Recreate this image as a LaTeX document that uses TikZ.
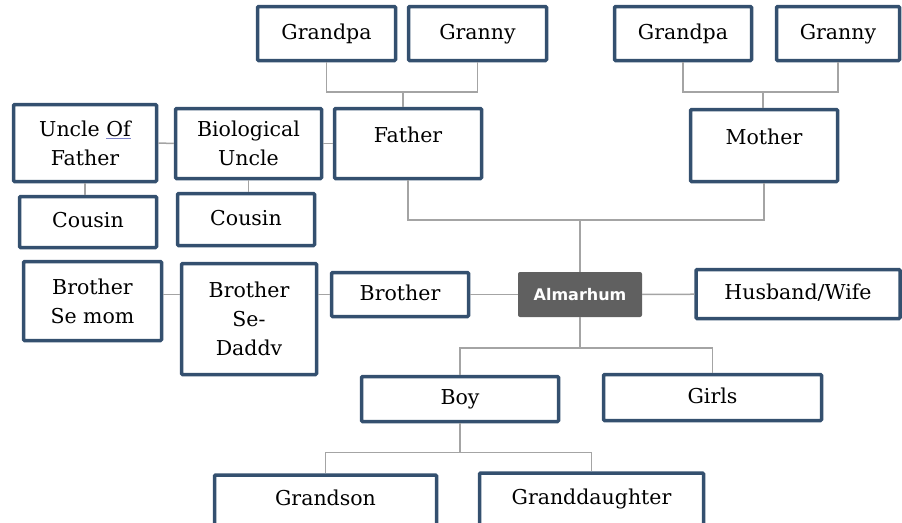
\documentclass[tikz,border=0pt]{standalone}
\usepackage{fontspec}
\setmainfont{DejaVu Serif}
\newfontfamily\almfont{DejaVu Sans}
\usepackage{xcolor}
\usepackage{tikz}
\usetikzlibrary{positioning,calc}

\definecolor{boxblue}{HTML}{34506F}
\definecolor{linkgray}{HTML}{A4A4A4}
\definecolor{almgray}{HTML}{606060}
\definecolor{ulblue}{HTML}{7C82C8}

\tikzset{
    member/.style={draw=boxblue, line width=3.5pt, fill=white, rounded corners=1pt,
        align=center, inner sep=0pt, font=\fontsize{20.5}{29}\selectfont},
    single/.style={text height=14pt, text depth=2.5pt},
    link/.style={draw=linkgray, line width=1.5pt},
    deceased/.style={fill=almgray, rounded corners=2pt, text=white, inner sep=0pt,
        font=\almfont\bfseries\fontsize{16}{18}\selectfont}
}

\begin{document}
\begin{tikzpicture}[x=1pt, y=-1pt]
    \clip (0,0) rectangle (902,522);

    % Grandparents
    \node[member, single, minimum width=138, minimum height=54] (gpaF) at (326.5,33.5) {Grandpa};
    \node[member, single, minimum width=138, minimum height=54] (gmaF) at (477.5,33.5) {Granny};
    \node[member, single, minimum width=137, minimum height=54] (gpaM) at (683,33.5) {Grandpa};
    \node[member, single, minimum width=123, minimum height=54] (gmaM) at (838,33.5) {Granny};

    % Parents
    \node[member, minimum width=147, minimum height=70, text depth=18pt] (father) at (408,143.5) {Father};
    \node[member, minimum width=147, minimum height=72, text depth=18pt] (mother) at (764,145.5) {Mother};

    % Uncles and cousins
    \node[member, minimum width=143, minimum height=77] (uncleF) at (85,143)
        {Uncle {\color{ulblue}\underline{\textcolor{black}{Of}}}\\Father};
    \node[member, minimum width=146, minimum height=70] (bioU) at (248.5,143.5) {Biological\\Uncle};
    \node[member, single, minimum width=137, minimum height=51] (cousinA) at (88,222) {Cousin};
    \node[member, single, minimum width=137, minimum height=52] (cousinB) at (246,219.5) {Cousin};

    % Brothers
    \node[member, minimum width=138, minimum height=79] (broM) at (92.5,301) {Brother\\Se mom};
    \node[member, minimum width=135, minimum height=111] (broD) at (249,319) {Brother\\Se-\\Daddv};
    \node[member, single, minimum width=137, minimum height=44] (bro) at (400,294.5) {Brother};

    % The deceased and spouse
    \node[deceased, minimum width=124, minimum height=45] (alm) at (580,294.5) {Almarhum};
    \node[member, single, minimum width=204, minimum height=49] (spouse) at (798,294) {Husband/Wife};

    % Children and grandchildren
    \node[member, single, minimum width=197, minimum height=45] (boy) at (460,399) {Boy};
    \node[member, single, minimum width=218, minimum height=46] (girls) at (712.5,397.5) {Girls};
    \node[member, single, minimum width=222, minimum height=50] (gson) at (325.5,500) {Grandson};
    \node[member, single, minimum width=224, minimum height=52] (gdau) at (591.5,499) {Granddaughter};

    % Junctions
    \coordinate (jF) at (403,92);
    \coordinate (jM) at (763,92);
    \path (alm.north) ++(0,-52) coordinate (jP);
    \path (alm.south) ++(0,31) coordinate (jC);
    \path (boy.south) ++(0,29) coordinate (jG);

    % Connectors
    \draw[link] (gpaF.south) |- (jF) -| (gmaF.south);
    \draw[link] (jF) -- (jF |- father.north);
    \draw[link] (gpaM.south) |- (jM) -| (gmaM.south);
    \draw[link] (jM) -- (jM |- mother.north);
    \draw[link] (father.south) |- (jP) -| (mother.south);
    \draw[link] (jP) -- (alm.north);

    \draw[link] (uncleF) -- (bioU);
    \draw[link] (bioU) -- (father);
    \draw[link] (uncleF.south) -- (uncleF.south |- cousinA.north);
    \draw[link] (bioU.south) -- (bioU.south |- cousinB.north);

    \draw[link] (broM.east |- bro.west) -- (broD.west |- bro.west);
    \draw[link] (broD.east |- bro.west) -- (bro.west);
    \draw[link] (bro) -- (alm);
    \draw[link] (alm) -- (spouse);

    \draw[link] (alm.south) -- (jC);
    \draw[link] (boy.north) |- (jC) -| (girls.north);
    \draw[link] (boy.south) -- (jG);
    \draw[link] (gson.north) |- (jG) -| (gdau.north);

\end{tikzpicture}
\end{document}
